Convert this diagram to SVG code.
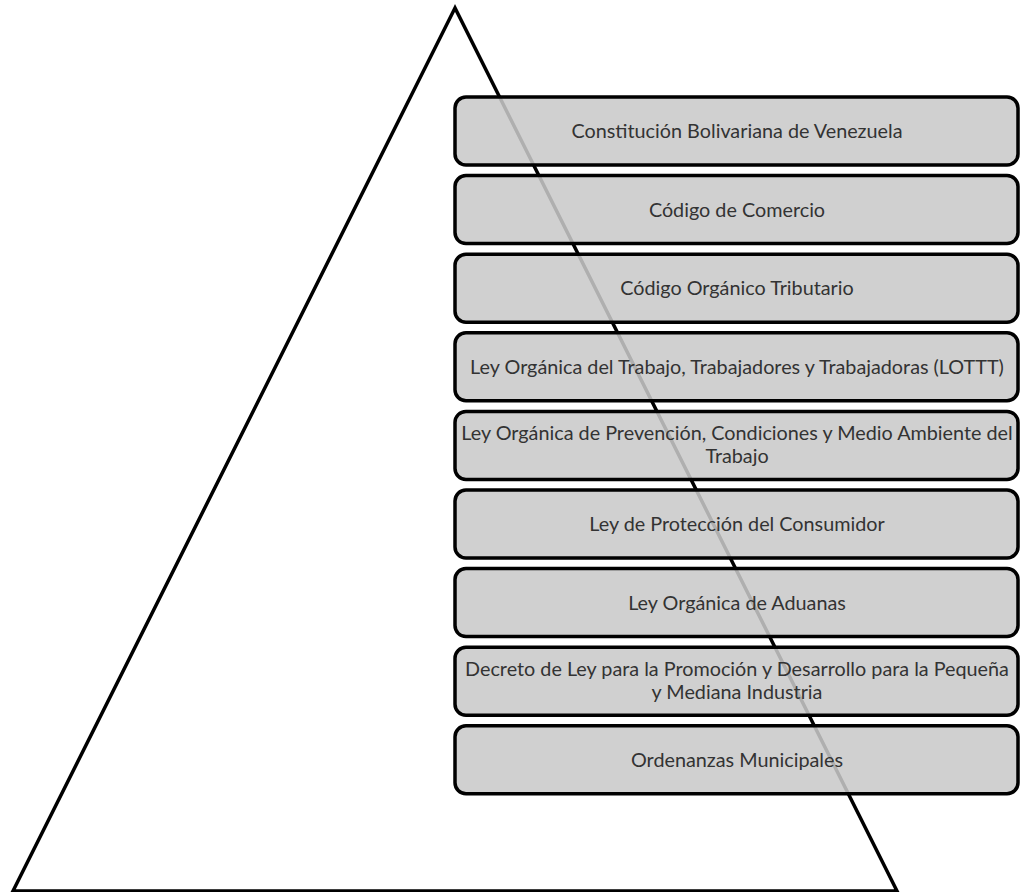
<svg xmlns="http://www.w3.org/2000/svg" width="1020" height="892" viewBox="0 0 1020 892">
<style>
.box{fill:#c9c9c9;fill-opacity:0.87;stroke:#000;stroke-width:3.5}
.t{font-family:Lato,"Liberation Sans",Arial,sans-serif;font-size:19.8px;fill:#333;text-anchor:middle}
</style>
<rect width="1020" height="892" fill="#fff"/>
<g id="triangle">
<polygon points="455,8 13,891 897,891" fill="none" stroke="#000" stroke-width="3.5" stroke-linejoin="miter"/>
</g>
<g id="n1"><rect class="box" x="455" y="97" width="563" height="68" rx="11"/><text class="t" x="737" y="138">Constitución Bolivariana de Venezuela</text></g>
<g id="n2"><rect class="box" x="455" y="175.6" width="563" height="68" rx="11"/><text class="t" x="737" y="216.5">Código de Comercio</text></g>
<g id="n3"><rect class="box" x="455" y="254.2" width="563" height="68" rx="11"/><text class="t" x="737" y="295">Código Orgánico Tributario</text></g>
<g id="n4"><rect class="box" x="455" y="332.8" width="563" height="68" rx="11"/><text class="t" x="737" y="373.5">Ley Orgánica del Trabajo, Trabajadores y Trabajadoras (LOTTT)</text></g>
<g id="n5"><rect class="box" x="455" y="411.4" width="563" height="68" rx="11"/><text class="t" x="737" y="439.5">Ley Orgánica de Prevención, Condiciones y Medio Ambiente del</text><text class="t" x="737" y="463">Trabajo</text></g>
<g id="n6"><rect class="box" x="455" y="490" width="563" height="68" rx="11"/><text class="t" x="737" y="531">Ley de Protección del Consumidor</text></g>
<g id="n7"><rect class="box" x="455" y="568.6" width="563" height="68" rx="11"/><text class="t" x="737" y="609.5">Ley Orgánica de Aduanas</text></g>
<g id="n8"><rect class="box" x="455" y="647.2" width="563" height="68" rx="11"/><text class="t" x="737" y="675.5">Decreto de Ley para la Promoción y Desarrollo para la Pequeña</text><text class="t" x="737" y="699">y Mediana Industria</text></g>
<g id="n9"><rect class="box" x="455" y="725.8" width="563" height="68" rx="11"/><text class="t" x="737" y="766.5">Ordenanzas Municipales</text></g>
<g id="connectors"></g>
</svg>
